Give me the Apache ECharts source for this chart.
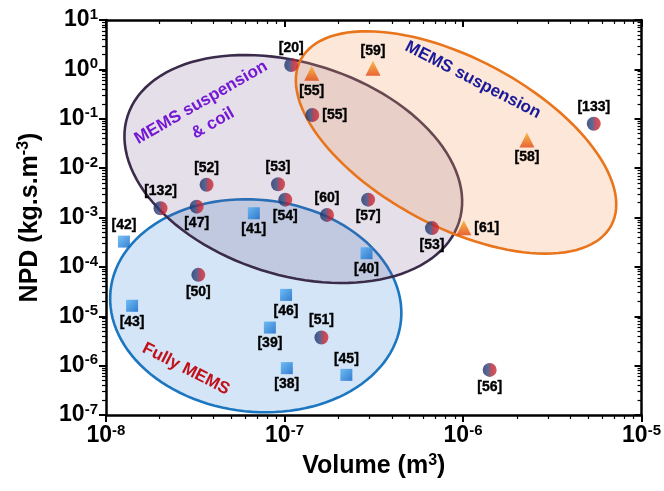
<!DOCTYPE html>
<html lang="en">
<head>
  <meta charset="UTF-8">
  <title>NPD vs Volume</title>
  <script src="https://cdn.jsdelivr.net/npm/echarts@6/dist/echarts.min.js"></script>
  <style>
    html, body { margin: 0; padding: 0; background: #fff; }
    #main { width: 664px; height: 491px; }
  </style>
</head>
<body>
  <div id="main"></div>
  <script>
    // axis decades
    var xTicks = [1e-8, 1e-7, 1e-6, 1e-5];
    var yTicks = [1e-7, 1e-6, 1e-5, 1e-4, 1e-3, 1e-2, 1e-1, 1e0, 1e1];

    // split red/blue circles : volume (m3), NPD (kg.s.m-3)
    var circleRefs = ['[20]', '[55]', '[52]', '[53]', '[132]', '[47]', '[54]', '[60]', '[57]', '[133]', '[53]', '[50]', '[51]', '[56]'];
    var circleVol = [1.09e-7, 1.43e-7, 3.66e-8, 9.2e-8, 2.02e-8, 3.22e-8, 1.01e-7, 1.73e-7, 2.94e-7, 5.4e-6, 6.7e-7, 3.29e-8, 1.61e-7, 1.41e-6];
    var circleNpd = [1.23, 0.119, 4.6e-3, 4.7e-3, 1.54e-3, 1.66e-3, 2.3e-3, 1.13e-3, 2.3e-3, 0.079, 6.1e-4, 6.9e-5, 3.7e-6, 8.2e-7];

    // blue squares
    var squareRefs = ['[41]', '[42]', '[40]', '[43]', '[46]', '[39]', '[38]', '[45]'];
    var squareVol = [6.73e-8, 1.26e-8, 2.88e-7, 1.40e-8, 1.02e-7, 8.28e-8, 1.03e-7, 2.22e-7];
    var squareNpd = [1.22e-3, 3.25e-4, 1.89e-4, 1.63e-5, 2.71e-5, 5.9e-6, 8.9e-7, 6.5e-7];

    // orange triangles
    var triRefs = ['[55]', '[59]', '[58]', '[61]'];
    var triVol = [1.42e-7, 3.13e-7, 2.28e-6, 1.01e-6];
    var triNpd = [0.83, 1.05, 0.037, 6.2e-4];

    // region ellipse centres
    var regionNames = ['Fully MEMS', 'MEMS suspension & coil', 'MEMS suspension'];
    var regionVol = [6.9e-8, 1.12e-7, 9.14e-7];
    var regionNpd = [1.63e-5, 9.6e-3, 0.0331];

    // label sides (style, kept apart from values)
    var circleLabelAt = ['top', 'right', 'top', 'top', 'top', 'bottom', 'bottom', 'top', 'bottom', 'top', 'bottom', 'bottom', 'top', 'bottom'];
    var squareLabelAt = ['bottom', 'top', 'bottom', 'bottom', 'bottom', 'bottom', 'bottom', 'top'];
    var triLabelAt = ['bottom', 'top', 'bottom', 'right'];

    var regionShape = [
      { rx: 146, ry: 106, rot: 6, fill: 'rgba(110,170,225,0.30)', stroke: '#1c76c0' },
      { rx: 174, ry: 106, rot: 17.7, fill: 'rgba(110,80,135,0.18)', stroke: '#3b2b4b' },
      { rx: 176, ry: 84, rot: 28.1, fill: 'rgba(242,160,100,0.25)', stroke: '#e8741c' }
    ];

    var FONT = 'Arial, "Liberation Sans", sans-serif';

    function pts(refs, vol, npd, sides) {
      var out = [];
      for (var i = 0; i < refs.length; i++) {
        out.push({ name: refs[i], value: [vol[i], npd[i]], label: { position: sides[i] } });
      }
      return out;
    }

    function powLabel(v) {
      return '10{sup|' + Math.round(Math.log10(v)) + '}';
    }

    var supStyle = { fontSize: 15, fontWeight: 'bold', color: '#000', fontFamily: FONT, verticalAlign: 'top', padding: [0, 0, 11, 0] };

    function axis(pos, main) {
      var horiz = pos === 'bottom' || pos === 'top';
      var ticks = horiz ? xTicks : yTicks;
      return {
        type: 'log',
        logBase: 10,
        position: pos,
        min: ticks[0],
        max: ticks[ticks.length - 1],
        axisLine: { show: true, onZero: false, lineStyle: { color: '#000', width: 2.5 } },
        axisTick: { show: true, inside: !main, length: 7, lineStyle: { color: '#000', width: 2 } },
        minorTick: { show: true, splitNumber: 9, length: 4, lineStyle: { color: '#000', width: 1.2 } },
        splitLine: { show: false },
        axisLabel: {
          show: main,
          formatter: powLabel,
          fontSize: 23,
          fontWeight: 'bold',
          color: '#000',
          fontFamily: FONT,
          margin: 8,
          rich: { sup: supStyle }
        }
      };
    }

    var titleStyle = { fontSize: 25, fontWeight: 'bold', color: '#000', fontFamily: FONT, rich: { sup: { fontSize: 16, fontWeight: 'bold', color: '#000', fontFamily: FONT, verticalAlign: 'top', padding: [0, 0, 12, 0] } } };

    var xBottom = axis('bottom', true);
    xBottom.name = 'Volume (m{sup|3})';
    xBottom.nameLocation = 'middle';
    xBottom.nameGap = 36;
    xBottom.nameTextStyle = titleStyle;

    var yLeft = axis('left', true);
    yLeft.name = 'NPD (kg.s.m{sup|-3})';
    yLeft.nameLocation = 'middle';
    yLeft.nameGap = 62;
    yLeft.nameTextStyle = titleStyle;

    var circleColor = new echarts.graphic.LinearGradient(0, 0, 1, 0, [
      { offset: 0, color: '#1b2f66' },
      { offset: 0.42, color: '#34467c' },
      { offset: 0.58, color: '#a8233a' },
      { offset: 1, color: '#d42a30' }
    ]);
    var squareColor = new echarts.graphic.LinearGradient(0, 0, 1, 1, [
      { offset: 0, color: '#55b2f5' },
      { offset: 1, color: '#0c63c6' }
    ]);
    var triColor = new echarts.graphic.LinearGradient(0, 0, 0, 1, [
      { offset: 0, color: '#f9b020' },
      { offset: 1, color: '#e2430e' }
    ]);

    var dataLabel = {
      show: true,
      formatter: '{b}',
      fontSize: 14,
      fontWeight: 'bold',
      color: '#000',
      opacity: 1,
      textBorderColor: '#111',
      textBorderWidth: 0.4,
      fontFamily: FONT,
      distance: 3
    };

    var chart = echarts.init(document.getElementById('main'));

    var option = {
      animation: false,
      backgroundColor: '#fff',
      grid: { left: 106, right: 22, top: 20, bottom: 76 },
      xAxis: [xBottom, axis('top', false)],
      yAxis: [yLeft, axis('right', false)],
      graphic: [
        {
          type: 'text', x: 473, y: 80, rotation: -27.3 * Math.PI / 180, z: 50,
          style: { text: 'MEMS suspension', fill: '#1a1a98', font: 'bold 17px ' + FONT, align: 'center', verticalAlign: 'middle' }
        },
        {
          type: 'text', x: 207, y: 113, rotation: 30 * Math.PI / 180, z: 50,
          style: { text: 'MEMS suspension\n& coil', fill: '#7418d4', font: 'bold 17px ' + FONT, align: 'center', verticalAlign: 'middle', lineHeight: 24 }
        },
        {
          type: 'text', x: 186, y: 369, rotation: -27 * Math.PI / 180, z: 50,
          style: { text: 'Fully MEMS', fill: '#c0101a', font: 'bold 17px ' + FONT, align: 'center', verticalAlign: 'middle' }
        }
      ],
      series: [
        {
          type: 'custom',
          coordinateSystem: 'cartesian2d',
          silent: true,
          clip: false,
          z: 1,
          data: regionNames.map(function (n, i) { return { name: n, value: [regionVol[i], regionNpd[i]] }; }),
          renderItem: function (params, api) {
            var s = regionShape[params.dataIndex];
            var c = api.coord([api.value(0), api.value(1)]);
            var th = s.rot * Math.PI / 180;
            var p = [];
            for (var k = 0; k < 120; k++) {
              var t = k / 120 * Math.PI * 2;
              p.push([
                c[0] + s.rx * Math.cos(t) * Math.cos(th) - s.ry * Math.sin(t) * Math.sin(th),
                c[1] + s.rx * Math.cos(t) * Math.sin(th) + s.ry * Math.sin(t) * Math.cos(th)
              ]);
            }
            return {
              type: 'polygon',
              shape: { points: p },
              style: { fill: s.fill, stroke: s.stroke, lineWidth: 2.6 }
            };
          }
        },
        {
          type: 'scatter', symbol: 'circle', symbolSize: 14, z: 5,
          itemStyle: { color: circleColor },
          label: dataLabel,
          data: pts(circleRefs, circleVol, circleNpd, circleLabelAt)
        },
        {
          type: 'scatter', symbol: 'rect', symbolSize: 12, z: 5,
          itemStyle: { color: squareColor },
          label: dataLabel,
          data: pts(squareRefs, squareVol, squareNpd, squareLabelAt)
        },
        {
          type: 'scatter', symbol: 'triangle', symbolSize: 15, z: 5,
          itemStyle: { color: triColor },
          label: dataLabel,
          data: pts(triRefs, triVol, triNpd, triLabelAt)
        }
      ]
    };

    chart.setOption(option);
  </script>
</body>
</html>
